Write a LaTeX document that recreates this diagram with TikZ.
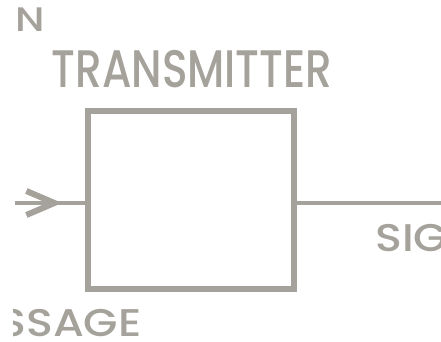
\documentclass[tikz,border=0pt]{standalone}
\usepackage{graphicx}
\usepackage{fontspec}
\setmainfont{Poppins}[UprightFont={* Medium}]
\usepackage{tikz}
\usetikzlibrary{arrows.meta,positioning,calc}
\definecolor{scangray}{RGB}{164,162,154}
\tikzset{
    box/.style  = {rectangle, draw=scangray, line width=2.6pt,
                   minimum width=103pt, minimum height=89pt, inner sep=0pt},
    wire/.style = {draw=scangray, line width=2.1pt},
    lbl/.style  = {text=scangray, inner sep=0pt, anchor=base west},
    big/.style  = {font=\fontsize{26.4}{28}\selectfont},
    mid/.style  = {font=\fontsize{19.3}{21}\selectfont},
    small/.style= {font=\fontsize{17}{19}\selectfont}
}

\begin{document}
\begin{tikzpicture}[x=0.5pt, y=-0.5pt]
  \useasboundingbox [fill=white] (0,0) rectangle (441,342);
  \clip (14,0) rectangle (441,342);

  \node [box] (tx) at (191,200) {};
  \coordinate (in)  at (15,203);
  \coordinate (tip) at (62,203);
  \coordinate (out) at (445,203);

  \path [wire] (in) -- (in -| tx.west);
  \path [wire, -{Straight Barb[length=14pt, width=12pt, line width=3pt]}]
    (in) -- (tip);
  \path [wire] (tx.east |- out) -- (out);

  \node [lbl, small] (src) at (15,32) {\scalebox{1.2}[1]{N}};
  \node [lbl, big, anchor=base] (txlabel) at (192,88)
        {\scalebox{0.8}[1]{TRANSMITTER}};
  \node [lbl, mid] (sig) at (375,252) {\scalebox{1.15}[1]{SIG}};
  \node [lbl, mid] (msg) at (-1,337) {\scalebox{1.15}[1]{SSAGE}};
\end{tikzpicture}
\end{document}
